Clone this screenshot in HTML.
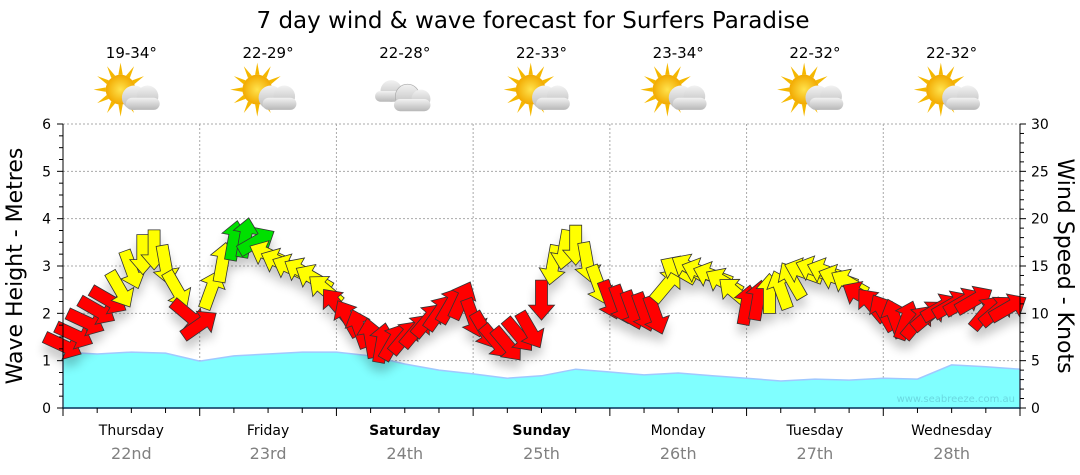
<!DOCTYPE html>
<html><head><meta charset="utf-8"><style>
body{margin:0;background:#fff;}
svg{display:block;font-family:"DejaVu Sans","Liberation Sans",sans-serif;}
</style></head><body>
<svg id="chart" width="1080" height="475" xmlns="http://www.w3.org/2000/svg">
<defs>
<filter id="sh" x="-50%" y="-50%" width="200%" height="200%"><feGaussianBlur stdDeviation="5"/></filter>
<radialGradient id="sun" cx="50%" cy="50%" r="50%"><stop offset="0" stop-color="#ffe34d"/><stop offset="1" stop-color="#f2a900"/></radialGradient>
<linearGradient id="cl" x1="0" y1="0" x2="0" y2="1"><stop offset="0" stop-color="#f2f2f2"/><stop offset="1" stop-color="#b8b8b8"/></linearGradient>
</defs>
<text x="533" y="28" font-size="23" text-anchor="middle" fill="#000">7 day wind &amp; wave forecast for Surfers Paradise</text>
<g id="grid"></g>
<g id="wave"></g>
<g id="shadows" filter="url(#sh)" opacity="0.22"></g>
<g id="arrows"></g>
<g id="axes"></g>
<g id="top"></g>
<text x="1015" y="402" font-size="10" text-anchor="end" fill="#6ad8e0">www.seabreeze.com.au</text>
<text transform="translate(22,266) rotate(-90)" font-size="22" text-anchor="middle">Wave Height - Metres</text>
<text transform="translate(1058,266) rotate(90)" font-size="22" text-anchor="middle">Wind Speed - Knots</text>
</svg>
<script>
const days=["Thursday","Friday","Saturday","Sunday","Monday","Tuesday","Wednesday"];
const dates=["22nd","23rd","24th","25th","26th","27th","28th"];
const temps=["19-34°","22-29°","22-28°","22-33°","23-34°","22-32°","22-32°"];
const icons=["partly","partly","cloudy","partly","partly","partly","partly"];
const boldDays=[false,false,true,true,false,false,false];
const waveM=[1.18,1.14,1.18,1.16,0.99,1.10,1.14,1.18,1.18,1.10,0.93,0.80,0.72,0.63,0.68,0.82,0.76,0.70,0.74,0.68,0.63,0.57,0.61,0.59,0.63,0.61,0.91,0.87,0.82];
const windKn=[6.6,7.7,9.1,10.3,11.4,12.5,14.6,16.2,16.7,15.1,12.5,9.8,
8.8,12.5,15.4,17.7,18,17.6,16.2,15.4,14.8,14.4,13.7,12.5,
10.9,9.5,8.4,7.4,6.9,7.0,7.5,8.2,9.3,10.1,10.9,11.4,
9.5,8.2,7.0,6.7,7.7,8.2,11.4,15.1,16.7,17.2,15.4,13.0,
11.4,10.9,10.3,10.1,9.8,13.0,14.6,14.8,14.4,14.0,13.3,12.2,
10.9,11.4,12.1,12.5,13.5,14.4,14.6,14.4,13.7,13.2,11.9,10.9,
10.1,9.5,9.3,9.1,9.8,10.6,10.9,11.2,11.4,10.1,10.3,10.6];
const windDir=[115,115,115,120,120,150,160,180,180,170,150,130,
55,20,10,10,10,60,295,295,295,300,300,310,
320,330,340,350,10,30,40,40,40,35,30,25,
160,150,140,140,140,150,180,190,190,180,170,160,
160,160,160,160,160,40,300,300,290,290,300,310,
10,10,0,340,330,290,290,290,290,300,300,320,
330,340,20,40,50,60,60,60,60,40,50,60];
const windStepH=2;
const waveStepH=6;
const waveTicks=[0,1,2,3,4,5,6];
const windTicks=[0,5,10,15,20,25,30];

const NS="http://www.w3.org/2000/svg";
const X0=63,X1=1020,Y0=408,Y1=124;
const xH=h=>X0+h*(X1-X0)/168;
const yM=m=>Y0-m*(Y0-Y1)/6;
const yK=k=>Y0-k*(Y0-Y1)/30;
function mk(tag,attrs,parent){const e=document.createElementNS(NS,tag);for(const k in attrs)e.setAttribute(k,attrs[k]);parent.appendChild(e);return e;}
const G=id=>document.getElementById(id);

const grid=G('grid');
for(let d=1;d<7;d++){const l=mk('line',{x1:xH(d*24),x2:xH(d*24),y1:Y1,y2:Y0,stroke:'#aaa','stroke-dasharray':'2,2','stroke-width':1},grid);

}
waveTicks.forEach(m=>{if(m>0){const l=mk('line',{x1:X0,x2:X1,y1:yM(m),y2:yM(m),stroke:'#aaa','stroke-dasharray':'2,2','stroke-width':1},grid);

}});

let d='M'+X0+','+Y0;
waveM.forEach((m,i)=>{d+=' L'+xH(i*waveStepH).toFixed(1)+','+yM(m).toFixed(1);});
d+=' L'+xH((waveM.length-1)*waveStepH)+','+Y0+' Z';
const wa=mk('path',{d:d,fill:'#80ffff',stroke:'#a0c8ff','stroke-width':1.5},G('wave'));



function arrowPath(){return 'M-20,-6 L5,-6 L5,-13 L20,0 L5,13 L5,6 L-20,6 Z';}
windKn.forEach((k,i)=>{
 const x=xH(i*windStepH),y=yK(k),a=windDir[i]-90;
 const col=k>=17.5?'#00e000':(k>=12?'#ffff00':'#ff0000');
 mk('path',{d:arrowPath(),transform:`translate(${x},${y+9}) rotate(${a})`,fill:'#000'},G('shadows'));
 const p=mk('path',{d:arrowPath(),transform:`translate(${x.toFixed(1)},${y.toFixed(1)}) rotate(${a})`,fill:col,stroke:'#333','stroke-width':0.8},G('arrows'));
 
 
});

const ax=G('axes');
mk('line',{x1:X0,x2:X0,y1:Y1,y2:Y0,stroke:'#000'},ax);
mk('line',{x1:X1,x2:X1,y1:Y1,y2:Y0,stroke:'#000'},ax);
mk('line',{x1:X0,x2:X1,y1:Y0,y2:Y0,stroke:'#0a3a5a','stroke-width':1.5},ax);
for(let q=0;q<=24;q++){const y=Y0-q*(Y0-Y1)/24;mk('line',{x1:X0-(q%4==0?6:4),x2:X0,y1:y,y2:y,stroke:'#000'},ax);}
for(let q=0;q<=30;q++){const y=yK(q);mk('line',{x1:X1,x2:X1+(q%5==0?6:4),y1:y,y2:y,stroke:'#000'},ax);}
for(let q=0;q<=28;q++){const x=xH(q*6);mk('line',{x1:x,x2:x,y1:Y0,y2:Y0+(q%4==0?8:5),stroke:'#000'},ax);}
waveTicks.forEach(m=>{const t=mk('text',{x:X0-12,y:yM(m)+5,'font-size':14,'text-anchor':'end'},ax);t.textContent=m;

});
windTicks.forEach(k=>{const t=mk('text',{x:X1+11,y:yK(k)+5,'font-size':14},ax);t.textContent=k;

});
days.forEach((n,i)=>{const cx=xH(i*24+12);
 const t=mk('text',{x:cx,y:435,'font-size':14,'text-anchor':'middle','font-weight':boldDays[i]?'bold':'normal'},ax);t.textContent=n;
 
 
 const t2=mk('text',{x:cx,y:459,'font-size':16,'text-anchor':'middle',fill:'#808080'},ax);t2.textContent=dates[i];
 
 
 const t3=mk('text',{x:cx,y:58,'font-size':15,'text-anchor':'middle'},G('top'));t3.textContent=temps[i];
 
 
 const g=mk('g',{transform:`translate(${cx},95) scale(1.35)`},G('top'));
 
 
 if(icons[i]==='partly'){
  for(let r=0;r<12;r++){const a=r*30*Math.PI/180;mk('path',{d:`M${-8+Math.cos(a+0.15)*11},${-4+Math.sin(a+0.15)*11} L${-8+Math.cos(a)*20},${-4+Math.sin(a)*20} L${-8+Math.cos(a-0.15)*11},${-4+Math.sin(a-0.15)*11}Z`,fill:'#f5b800'},g);}
  mk('circle',{cx:-8,cy:-4,r:11,fill:'url(#sun)'},g);
  mk('circle',{cx:2,cy:2,r:9,fill:'url(#cl)'},g);
  mk('circle',{cx:12,cy:1,r:8,fill:'url(#cl)'},g);
  mk('rect',{x:-4,y:2,width:25,height:9,rx:4.5,fill:'url(#cl)'},g);
 } else {
  mk('circle',{cx:-10,cy:-3,r:8,fill:'url(#cl)'},g);
  mk('rect',{x:-22,y:-3,width:28,height:8,rx:4,fill:'url(#cl)'},g);
  mk('circle',{cx:2,cy:1,r:9,fill:'url(#cl)',stroke:'#aaa','stroke-width':0.5},g);
  mk('circle',{cx:12,cy:3,r:7,fill:'url(#cl)'},g);
  mk('rect',{x:-8,y:3,width:27,height:9,rx:4.5,fill:'url(#cl)'},g);
 }
});
</script>
</body></html>
